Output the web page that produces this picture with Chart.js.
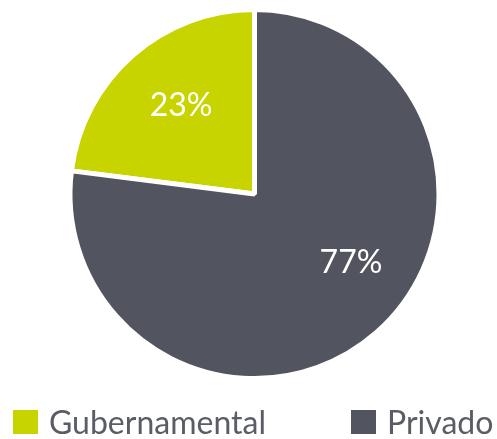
<!DOCTYPE html>
<html>
<head>
<meta charset="utf-8">
<script src="https://cdn.jsdelivr.net/npm/chart.js@4"></script>
<style>
  html, body { margin: 0; padding: 0; background: #ffffff; }
  #wrap { width: 497px; height: 439px; }
</style>
</head>
<body>
<div id="wrap"><canvas id="chart"></canvas></div>
<script>
// Datos del gráfico
const categorias = ['Gubernamental', 'Privado'];
const porcentajes = [23, 77];
const colores = ['#c8d400', '#52555f'];

const FUENTE = 'Lato, "Open Sans", sans-serif';

// Etiquetas de porcentaje dentro de cada sector
const etiquetasPlugin = {
    id: 'etiquetas',
    afterDatasetsDraw(chart) {
        const ctx = chart.ctx;
        const meta = chart.getDatasetMeta(0);
        // ajuste de ángulo (grados) y radio relativo de cada etiqueta
        const giro = [1.7, -13];
        const radio = [0.623, 0.643];
        ctx.save();
        ctx.fillStyle = '#ffffff';
        ctx.font = '32px ' + FUENTE;
        ctx.textAlign = 'center';
        ctx.textBaseline = 'middle';
        meta.data.forEach(function(arc, i) {
            const p = arc.getProps(['x', 'y', 'startAngle', 'endAngle', 'outerRadius'], true);
            const mid = (p.startAngle + p.endAngle) / 2 + giro[i] * Math.PI / 180;
            const r = p.outerRadius * radio[i];
            ctx.fillText(porcentajes[i] + '%', p.x + Math.cos(mid) * r, p.y + Math.sin(mid) * r);
        });
        ctx.restore();
    }
};

// Leyenda dibujada a mano debajo del gráfico
const leyendaPlugin = {
    id: 'leyenda',
    afterDraw(chart) {
        const ctx = chart.ctx;
        const posX = [13, 351];
        const y = 410;
        ctx.save();
        ctx.font = '32px ' + FUENTE;
        ctx.textBaseline = 'alphabetic';
        categorias.forEach(function(cat, i) {
            ctx.fillStyle = colores[i];
            ctx.fillRect(posX[i], y, 25, 24);
            ctx.fillStyle = '#5a5c66';
            ctx.fillText(cat, posX[i] + 36, y + 24);
        });
        ctx.restore();
    }
};

new Chart(document.getElementById('chart'), {
    type: 'pie',
    data: {
        labels: categorias,
        datasets: [{
            data: porcentajes,
            backgroundColor: colores,
            borderColor: '#ffffff',
            borderWidth: 5
        }]
    },
    options: {
        responsive: true,
        maintainAspectRatio: false,
        animation: false,
        rotation: -porcentajes[0] * 3.6,
        layout: { padding: { top: 7, left: 12, right: 0, bottom: 58 } },
        plugins: {
            legend: { display: false },
            tooltip: { enabled: false }
        }
    },
    plugins: [etiquetasPlugin, leyendaPlugin]
});
</script>
</body>
</html>
